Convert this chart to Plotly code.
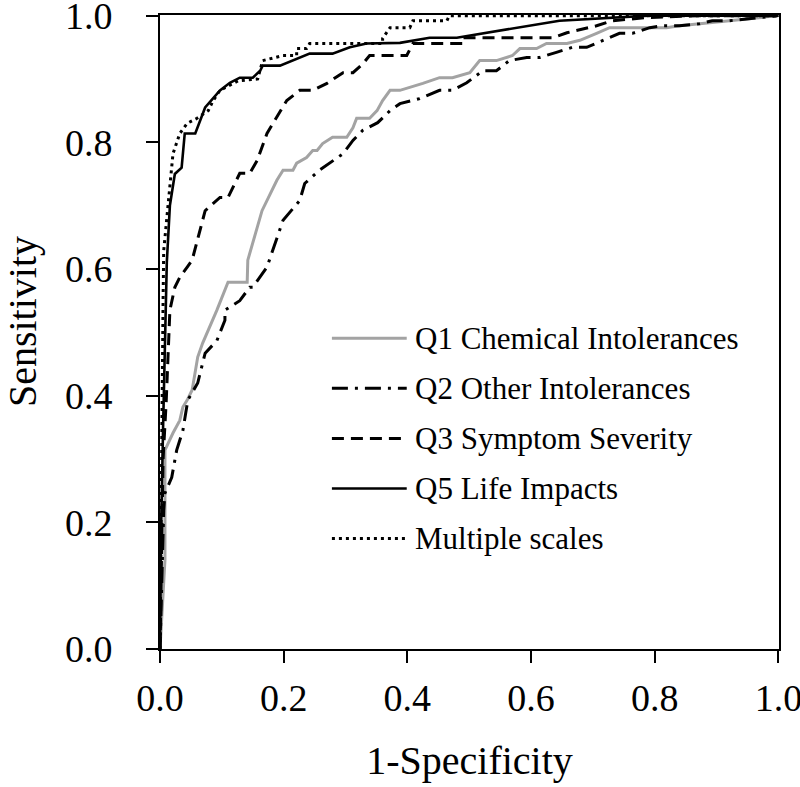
import plotly.graph_objects as go

# ---------------- data ----------------
q1_fpr = [0, 0.005, 0.006, 0.008, 0.008, 0.013, 0.021, 0.032, 0.037, 0.044, 0.052, 0.061, 0.069, 0.092, 0.100,
          0.110, 0.141, 0.142, 0.165, 0.178, 0.189, 0.199, 0.215, 0.221, 0.237, 0.247, 0.254, 0.263, 0.279, 0.302,
          0.312, 0.318, 0.339, 0.351, 0.360, 0.372, 0.388, 0.425, 0.452, 0.473, 0.501, 0.517, 0.544, 0.570, 0.582,
          0.609, 0.625, 0.658, 0.679, 0.706, 0.727, 0.819, 0.840, 0.893, 0.948, 0.990, 1.0]
q1_tpr = [0, 0.077, 0.098, 0.14, 0.314, 0.325, 0.341, 0.361, 0.382, 0.393, 0.409, 0.461, 0.483, 0.535, 0.555,
          0.579, 0.579, 0.614, 0.692, 0.719, 0.740, 0.756, 0.756, 0.767, 0.776, 0.787, 0.787, 0.798, 0.808, 0.808,
          0.823, 0.838, 0.838, 0.850, 0.866, 0.882, 0.882, 0.893, 0.902, 0.902, 0.910, 0.929, 0.929, 0.937, 0.948,
          0.948, 0.956, 0.956, 0.961, 0.972, 0.981, 0.981, 0.984, 0.989, 0.995, 1.0, 1.0]

q2_fpr = [0, 0.002, 0.005, 0.006, 0.008, 0.019, 0.024, 0.027, 0.037, 0.045, 0.061, 0.073, 0.092, 0.105, 0.105,
          0.129, 0.145, 0.150, 0.173, 0.199, 0.226, 0.234, 0.258, 0.275, 0.296, 0.312, 0.328, 0.352, 0.372, 0.388,
          0.420, 0.452, 0.473, 0.496, 0.522, 0.544, 0.565, 0.593, 0.614, 0.641, 0.667, 0.690, 0.716, 0.743, 0.764,
          0.792, 0.813, 0.840, 0.872, 0.893, 0.921, 0.948, 0.990, 1.0]
q2_tpr = [0, 0.077, 0.156, 0.219, 0.246, 0.271, 0.298, 0.314, 0.345, 0.393, 0.420, 0.467, 0.487, 0.519, 0.535,
          0.550, 0.571, 0.571, 0.603, 0.677, 0.708, 0.735, 0.756, 0.767, 0.782, 0.803, 0.819, 0.831, 0.850, 0.861,
          0.869, 0.882, 0.882, 0.894, 0.913, 0.913, 0.929, 0.934, 0.934, 0.942, 0.950, 0.950, 0.961, 0.972, 0.972,
          0.981, 0.984, 0.984, 0.987, 0.992, 0.992, 0.995, 1.0, 1.0]

q3_fpr = [0, 0.002, 0.005, 0.010, 0.013, 0.016, 0.024, 0.032, 0.044, 0.052, 0.073, 0.092, 0.097, 0.110, 0.129,
          0.145, 0.157, 0.173, 0.205, 0.226, 0.247, 0.270, 0.296, 0.312, 0.328, 0.339, 0.399, 0.409, 0.490, 0.490,
          0.635, 0.658, 0.706, 0.732, 0.787, 0.872, 1.0]
q3_tpr = [0, 0.14, 0.30, 0.39, 0.47, 0.535, 0.571, 0.587, 0.603, 0.614, 0.692, 0.708, 0.713, 0.713, 0.751,
          0.751, 0.771, 0.814, 0.866, 0.882, 0.882, 0.893, 0.910, 0.910, 0.924, 0.937, 0.937, 0.956, 0.956, 0.965,
          0.965, 0.973, 0.984, 0.992, 0.997, 1.0, 1.0]

q5_fpr = [0, 0.002, 0.005, 0.008, 0.011, 0.016, 0.024, 0.035, 0.040, 0.057, 0.073, 0.097, 0.113, 0.129, 0.150,
          0.162, 0.166, 0.194, 0.242, 0.279, 0.307, 0.334, 0.388, 0.436, 0.480, 0.646, 0.732, 0.79, 1.0]
q5_tpr = [0, 0.2, 0.35, 0.5, 0.61, 0.70, 0.75, 0.76, 0.814, 0.814, 0.855, 0.882, 0.894, 0.902, 0.902,
          0.913, 0.921, 0.921, 0.940, 0.940, 0.950, 0.956, 0.957, 0.965, 0.965, 0.992, 0.997, 1.0, 1.0]

multi_fpr = [0, 0.001, 0.002, 0.004, 0.005, 0.006, 0.021, 0.032, 0.044, 0.060, 0.078, 0.086, 0.097, 0.126, 0.158,
             0.166, 0.199, 0.221, 0.221, 0.237, 0.242, 0.360, 0.360, 0.372, 0.404, 0.409, 0.464, 0.468, 1.0]
multi_tpr = [0, 0.15, 0.30, 0.45, 0.55, 0.629, 0.782, 0.814, 0.830, 0.838, 0.850, 0.866, 0.882, 0.897, 0.900,
             0.929, 0.937, 0.937, 0.948, 0.948, 0.956, 0.956, 0.964, 0.981, 0.981, 0.992, 0.992, 1.0, 1.0]

series_names = ["Q1 Chemical Intolerances", "Q2 Other Intolerances", "Q3 Symptom Severity",
                "Q5 Life Impacts", "Multiple scales"]
x_ticks = [0.0, 0.2, 0.4, 0.6, 0.8, 1.0]
y_ticks = [0.0, 0.2, 0.4, 0.6, 0.8, 1.0]
tick_text = ["0.0", "0.2", "0.4", "0.6", "0.8", "1.0"]
x_title = "1-Specificity"
y_title = "Sensitivity"

# ---------------- styles ----------------
series_data = [(q1_fpr, q1_tpr), (q2_fpr, q2_tpr), (q3_fpr, q3_tpr), (q5_fpr, q5_tpr), (multi_fpr, multi_tpr)]
colors = ["#a3a3a3", "#000000", "#000000", "#000000", "#000000"]
dashes = ["solid", "16px,7px,3px,7px", "12px,7px", "solid", "3px,4px"]
widths = [3, 3, 3, 2.6, 3]

FONT = "Liberation Serif, Times New Roman, serif"

fig = go.Figure()
for (xs, ys), name, c, d, w in zip(series_data, series_names, colors, dashes, widths):
    fig.add_trace(go.Scatter(x=xs, y=ys, mode="lines", name=name,
                             line=dict(color=c, dash=d, width=w), showlegend=False))

# custom legend (long line samples like the reference)
leg_x0, leg_x1, leg_tx = 0.278, 0.399, 0.409
leg_y0, leg_dy = 0.4905, 0.079
for i, (name, c, d, w) in enumerate(zip(series_names, colors, dashes, widths)):
    yy = leg_y0 - i * leg_dy
    fig.add_shape(type="line", xref="x", yref="y", x0=leg_x0, x1=leg_x1, y0=yy, y1=yy,
                  line=dict(color=c, dash=d, width=w))
    fig.add_annotation(xref="x", yref="y", x=leg_tx, y=yy, text=name, showarrow=False,
                       xanchor="left", yanchor="middle",
                       font=dict(family=FONT, size=31, color="black"))

# y-axis title (placed slightly above centre, as in the reference)
fig.add_annotation(xref="paper", yref="paper", x=-0.221, y=0.516, text=y_title, showarrow=False,
                   textangle=-90, xanchor="center", yanchor="middle",
                   font=dict(family=FONT, size=40, color="black"))

axis_common = dict(range=[0, 1.001], showline=True, linecolor="black", linewidth=2, mirror=True,
                   ticks="outside", ticklen=12, tickwidth=2, tickcolor="black",
                   showgrid=False, zeroline=False, ticklabeloverflow="allow", automargin=False,
                   tickfont=dict(family=FONT, size=38, color="black"))

fig.update_layout(
    width=800, height=787,
    margin=dict(l=160, r=21, t=15, b=138, autoexpand=False),
    paper_bgcolor="white", plot_bgcolor="white",
    xaxis=dict(**axis_common, tickvals=x_ticks, ticktext=tick_text, ticklabelstandoff=2,
               title=dict(text=x_title, font=dict(family=FONT, size=40, color="black"), standoff=28)),
    yaxis=dict(**axis_common, tickvals=y_ticks, ticktext=tick_text, ticklabelstandoff=26),
)

# remove the default 8px page margin so the figure fills the window exactly
fig.write_html("out.html", config={"displayModeBar": False},
               post_script="document.body.style.margin='0';")
